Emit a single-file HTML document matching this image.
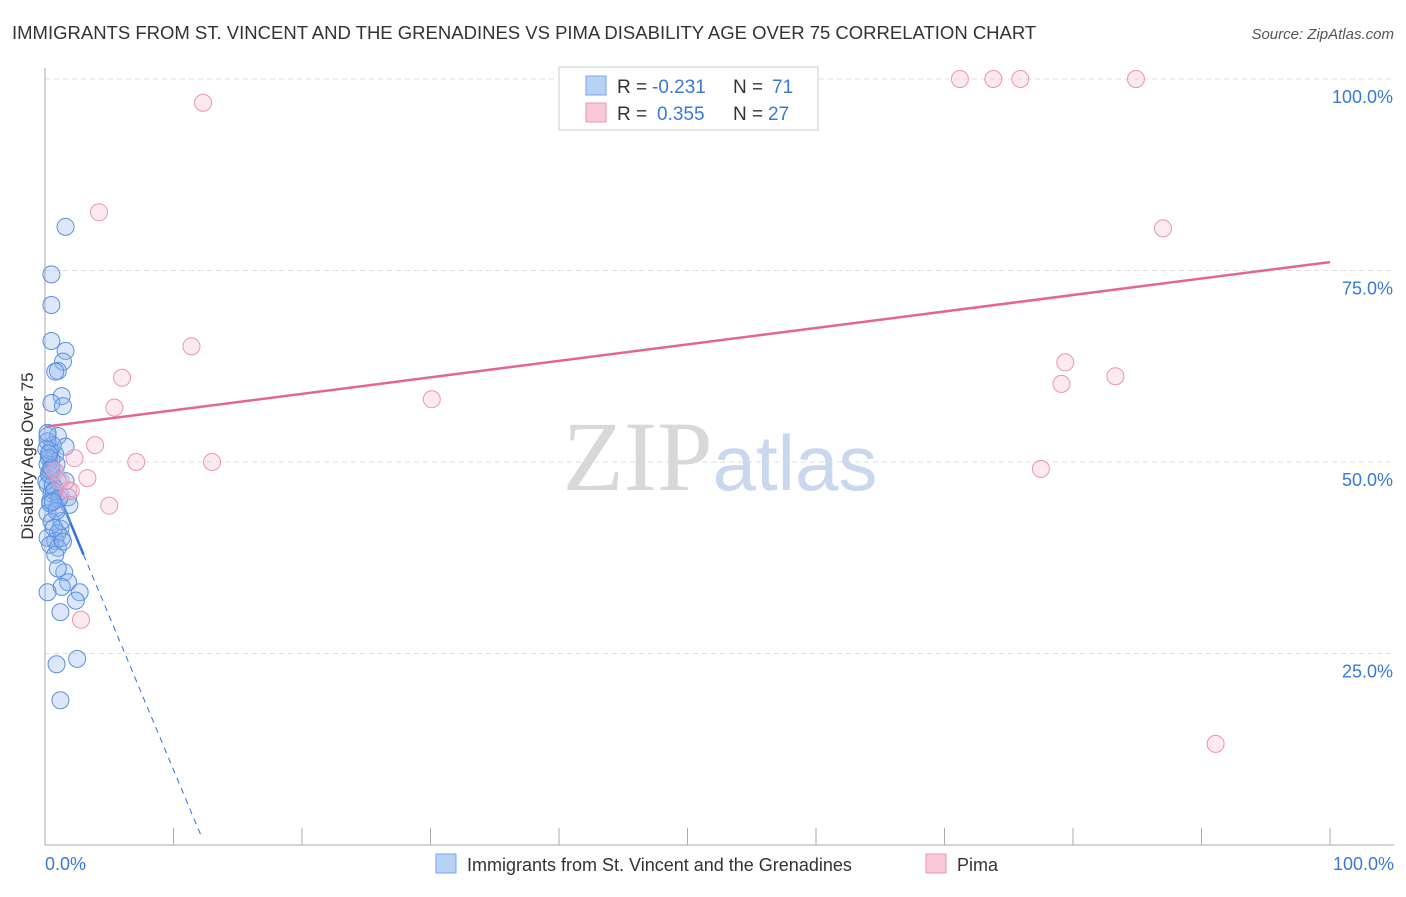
<!DOCTYPE html>
<html><head><meta charset="utf-8"><style>
body{margin:0;background:#fff;font-family:"Liberation Sans",sans-serif;}
svg text{font-family:"Liberation Sans",sans-serif;}
</style></head><body>
<svg id="chart" width="1406" height="892" xmlns="http://www.w3.org/2000/svg">
<text x="12" y="39" font-size="18.5" fill="#333">IMMIGRANTS FROM ST. VINCENT AND THE GRENADINES VS PIMA DISABILITY AGE OVER 75 CORRELATION CHART</text>
<text x="1394" y="39" font-size="15" fill="#555" font-style="italic" text-anchor="end">Source: ZipAtlas.com</text>
<text x="720" y="490" font-size="100" text-anchor="middle"><tspan fill="#d8d8d8" font-family="Liberation Serif">ZIP</tspan><tspan fill="#c9d8ee" font-size="78">atlas</tspan></text>
<g id="grid"></g>
<g id="axes"></g>
<g id="lines"></g>
<g id="pts"></g>
<text transform="translate(33,456) rotate(-90)" font-size="17" fill="#333" text-anchor="middle">Disability Age Over 75</text>
<g>
<rect x="559" y="67" width="259" height="63" fill="#fff" stroke="#ccc"/>
<rect x="586" y="76" width="20" height="19" fill="#b8d2f5" stroke="#7aa6e6"/>
<rect x="586" y="103" width="20" height="19" fill="#f9c9d7" stroke="#eb95ad"/>
<text x="617" y="93" font-size="19" fill="#333">R =</text>
<text x="652" y="93" font-size="19" fill="#3a78d8">-0.231</text>
<text x="733" y="93" font-size="19" fill="#333">N =</text>
<text x="772" y="93" font-size="19" fill="#3a78d8">71</text>
<text x="617" y="120" font-size="19" fill="#333">R =</text>
<text x="657" y="120" font-size="19" fill="#3a78d8">0.355</text>
<text x="733" y="120" font-size="19" fill="#333">N =</text>
<text x="768" y="120" font-size="19" fill="#3a78d8">27</text>
</g>
<g>
<rect x="436" y="854" width="20" height="19" fill="#b8d2f5" stroke="#7aa6e6"/>
<text x="467" y="871" font-size="18" fill="#333">Immigrants from St. Vincent and the Grenadines</text>
<rect x="926" y="854" width="20" height="19" fill="#f9c9d7" stroke="#eb95ad"/>
<text x="957" y="871" font-size="18" fill="#333">Pima</text>
</g>
</svg>
<script>
const yTicks=[25,50,75,100];
const yTickLabels=["25.0%","50.0%","75.0%","100.0%"];
const xTickLabels=["0.0%","100.0%"];
const blueX=[1.6,0.5,0.5,0.5,1.6,1.4,1,0.8,1.3,0.5,1.4,0.2,1,1.6,0.4,0.8,0.5,0.2,0.8,0.4,1,1.6,0.2,0.8,0.5,1.2,1.8,0.4,0.9,0.2,0.5,1.2,1,0.2,0.8,1.3,0.4,1,0.8,1.5,1.8,1.3,2.7,0.2,2.4,1.2,2.5,0.9,1.2,0.4,0.6,0.1,0.3,0.9,1.3,0.7,0.1,0.6,1.9,0.3,0.7,1.1,0.4,0.2,0.9,0.5,0.3,1.4,0.6,0.2,1];
const blueY=[80.7,74.5,70.5,65.8,64.5,63.1,61.9,61.8,58.6,57.7,57.3,53.4,53.4,52,51.4,51,50.3,49.7,48.8,48.3,47.5,47.5,47,46.5,45.9,45.6,45.4,44.9,44,43.3,42.2,41.3,40.7,40.1,39.7,40.1,39.2,38.8,37.9,35.6,34.3,33.7,33,33,31.9,30.4,24.3,23.6,18.9,44.6,52.2,47.5,48.4,49.7,42.3,41.4,51.7,47,44.4,50.5,46.2,45.2,48.9,52.7,43.6,49.2,51.1,39.6,44.8,53.8,36.1];
const pinkX=[12.3,4.2,11.4,6,5.4,3.9,2.3,7.1,13,3.3,5,2.8,1.8,30.1,71.2,73.8,75.9,84.9,87,79.4,79.1,83.3,77.5,91.1,0.8,1.2,2];
const pinkY=[96.9,82.6,65.1,61,57.1,52.2,50.5,50,50,47.9,44.3,29.4,46.3,58.2,100,100,100,100,80.5,63,60.2,61.2,49.1,13.2,48.8,47.5,46.2];
const pinkLine=[[0,54.6],[100,76.1]];
const blueSolid=[[0,50.1],[3.0,37.9]];
const blueDash=[[3.0,37.9],[12.2,1.0]];
const X=v=>45+v*12.85, Y=v=>845-v*7.66;
const NS="http://www.w3.org/2000/svg";
function mk(t,a,p){const e=document.createElementNS(NS,t);for(const k in a)e.setAttribute(k,a[k]);document.getElementById(p).appendChild(e);return e;}
yTicks.forEach((t,i)=>{
 const g=mk('line',{x1:45,x2:1394,y1:Y(t),y2:Y(t),stroke:'#ddd','stroke-dasharray':'5,4'},'grid');
 
 
 const l=mk('text',{x:1393,y:Y(t)+24,'font-size':18,fill:'#3a78d8','text-anchor':'end'},'axes');
 l.textContent=yTickLabels[i];
 
 
});
let a=mk('line',{x1:45,x2:45,y1:68,y2:845,stroke:'#aaa'},'axes');


a=mk('line',{x1:45,x2:1394,y1:845,y2:845,stroke:'#aaa'},'axes');


for(let i=1;i<=10;i++){const tk=mk('line',{x1:X(i*10),x2:X(i*10),y1:828,y2:845,stroke:'#aaa'},'axes');
 
 }
[[0,'start',45],[1,'end',1394]].forEach(([i,an,x])=>{const t=mk('text',{x:x,y:870,'font-size':18,fill:'#3a78d8','text-anchor':an},'axes');t.textContent=xTickLabels[i];
 
 });
let ln=mk('line',{x1:X(pinkLine[0][0]),y1:Y(pinkLine[0][1]),x2:X(pinkLine[1][0]),y2:Y(pinkLine[1][1]),stroke:'#e4668e','stroke-width':2.5},'lines');


ln=mk('line',{x1:X(blueSolid[0][0]),y1:Y(blueSolid[0][1]),x2:X(blueSolid[1][0]),y2:Y(blueSolid[1][1]),stroke:'#2f6fdb','stroke-width':2.5},'lines');


ln=mk('line',{x1:X(blueDash[0][0]),y1:Y(blueDash[0][1]),x2:X(blueDash[1][0]),y2:Y(blueDash[1][1]),stroke:'#2f6fdb','stroke-width':1,'stroke-dasharray':'6,5'},'lines');


blueX.forEach((x,i)=>{const c=mk('circle',{cx:X(x),cy:Y(blueY[i]),r:8.5,fill:'rgba(140,180,240,0.3)',stroke:'#5a90e0','stroke-width':1},'pts');
 
 });
pinkX.forEach((x,i)=>{const c=mk('circle',{cx:X(x),cy:Y(pinkY[i]),r:8.5,fill:'rgba(248,185,205,0.3)',stroke:'#eb95b0','stroke-width':1},'pts');
 
 });
</script>
</body></html>
